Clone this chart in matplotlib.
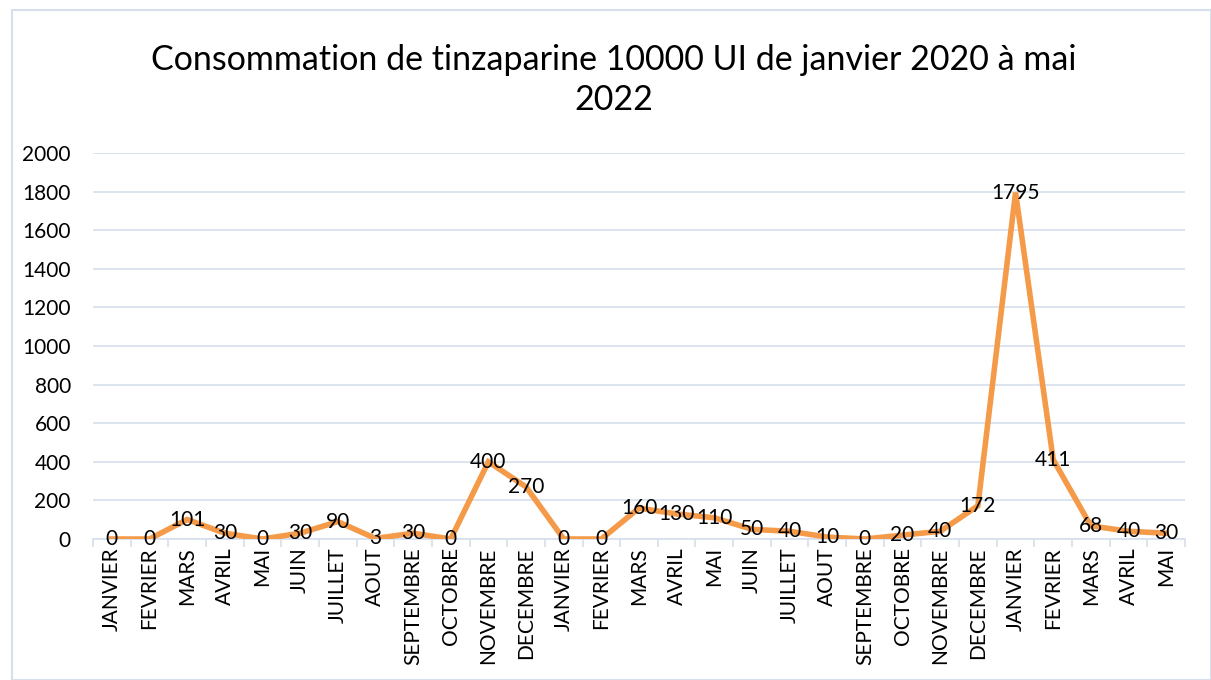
import matplotlib
matplotlib.use("Agg")
import matplotlib.pyplot as plt
from matplotlib.patches import Rectangle

plt.rcParams['font.family'] = ['Lato', 'DejaVu Sans']

months = ["JANVIER", "FEVRIER", "MARS", "AVRIL", "MAI", "JUIN", "JUILLET", "AOUT",
          "SEPTEMBRE", "OCTOBRE", "NOVEMBRE", "DECEMBRE",
          "JANVIER", "FEVRIER", "MARS", "AVRIL", "MAI", "JUIN", "JUILLET", "AOUT",
          "SEPTEMBRE", "OCTOBRE", "NOVEMBRE", "DECEMBRE",
          "JANVIER", "FEVRIER", "MARS", "AVRIL", "MAI"]
values = [0, 0, 101, 30, 0, 30, 90, 3, 30, 0, 400, 270,
          0, 0, 160, 130, 110, 50, 40, 10, 0, 20, 40, 172,
          1795, 411, 68, 40, 30]
yticks = [0, 200, 400, 600, 800, 1000, 1200, 1400, 1600, 1800, 2000]
title = "Consommation de tinzaparine 10000 UI de janvier 2020 à mai\n2022"

fig = plt.figure(figsize=(12.11, 6.8), dpi=100)
fig.patches.append(Rectangle((12/1211, 0), 1 - 12/1211, 1 - 10/680, transform=fig.transFigure,
                             fill=False, edgecolor='#D6DFEE', linewidth=1.5))
ax = fig.add_axes([93/1211, 1 - 539/680, (1185 - 93)/1211, (539 - 153)/680])

x = list(range(len(values)))
ax.plot(x, values, color='#F59A48', linewidth=4.0, solid_joinstyle='miter', zorder=3)
for xi, v in zip(x, values):
    ax.text(xi, v, str(v), ha='center', va='center', fontsize=15, color='black', zorder=4)

ax.set_xlim(-0.5, len(values) - 0.5)
ax.set_ylim(0, 2000)
ax.set_yticks(yticks)
ax.set_yticklabels([str(t) for t in yticks], fontsize=15)
ax.set_xticks(x)
ax.set_xticklabels(months, rotation=90, fontsize=15)
ax.set_xticks([i - 0.5 for i in range(len(values) + 1)], minor=True)
ax.tick_params(axis='x', which='major', length=0, pad=6)
ax.tick_params(axis='x', which='minor', length=6, color='#D6DFEE', width=1.2)
ax.tick_params(axis='y', length=0, pad=16)
ax.grid(axis='y', color='#D6DFEE', linewidth=1.2)
ax.set_axisbelow(True)
for s in ['top', 'right', 'left']:
    ax.spines[s].set_visible(False)
ax.spines['bottom'].set_color('#D6DFEE')
ax.spines['bottom'].set_linewidth(1.2)

fig.text(614/1211, 1 - 80/680, title, ha='center', va='center', fontsize=24.5, linespacing=1.3)

fig.savefig("out.png", dpi=100)
